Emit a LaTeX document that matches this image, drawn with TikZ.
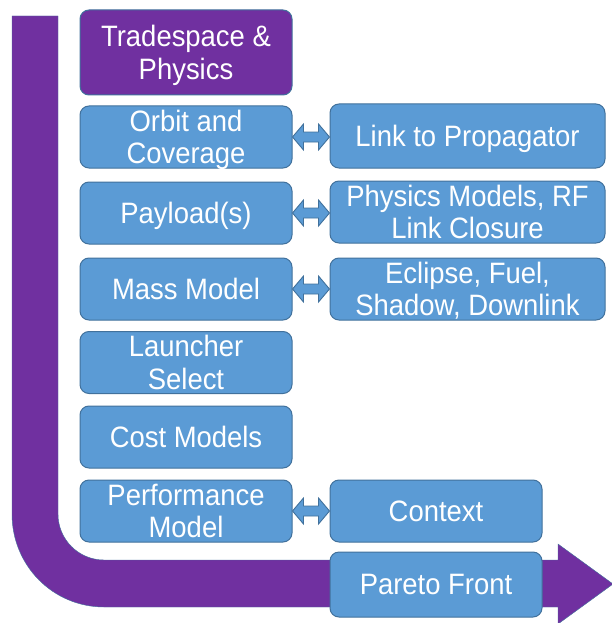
\documentclass[tikz,border=0pt]{standalone}
\usepackage{fontspec}
\setmainfont[FakeStretch=0.93]{Liberation Sans}
\usetikzlibrary{calc}
\definecolor{boxblue}{HTML}{5B9BD5}
\definecolor{edgeblue}{HTML}{41719C}
\definecolor{tpurple}{HTML}{7030A0}
\tikzset{
  box/.style={draw=edgeblue, line width=1pt, fill=boxblue, rounded corners=9pt,
    text=white, align=center, font=\fontsize{29.5}{32.5}\selectfont, inner sep=0pt,
    text depth=0pt},
  leftbox/.style={box, minimum width=212pt, minimum height=62pt},
  rightbox/.style={box, minimum width=275pt, minimum height=62pt},
  dbl/.style={draw=edgeblue, line width=0.9pt, fill=boxblue, line join=miter},
  bigarrow/.style={fill=tpurple, draw=edgeblue, line width=0.4pt}
}
\newcommand\linkarrow[2]{%
  \draw[dbl] (#1.east) -- ++(11pt,13pt) -- ++(0,-8pt)
    -- ($(#1.east -| #2.west)+(-11pt,5pt)$) -- ++(0,8pt)
    -- (#1.east -| #2.west) -- ++(-11pt,-13pt) -- ++(0,8pt)
    -- ($(#1.east)+(11pt,-5pt)$) -- ++(0,-8pt) -- cycle;}
\begin{document}
\begin{tikzpicture}[x=1pt,y=-1pt]
\useasboundingbox (0,0) rectangle (612,623);
% big process arrow
\path[bigarrow] (12,16) -- (58,16) -- (58,514)
  .. controls (58,539.4) and (78.6,560) .. (104,560)
  -- (558,560) -- (558,544) -- (613,584) -- (558,624) -- (558,607)
  -- (104,607) .. controls (53.2,607) and (12,565.8) .. (12,514) -- cycle;
% left column
\node[box, fill=tpurple, minimum width=212pt, minimum height=85pt] (trade) at (186,52.5) {Tradespace \&\\Physics};
\node[leftbox] (orbit) at (186,137) {Orbit and\\Coverage};
\node[leftbox] (payload) at (186,213) {Payload(s)};
\node[leftbox] (mass) at (186,289) {Mass Model};
\node[leftbox] (launch) at (186,362.5) {Launcher\\Select};
\node[leftbox] (cost) at (186,437) {Cost Models};
\node[leftbox] (perf) at (186,511) {Performance\\Model};
% right column
\node[rightbox, minimum height=64pt] (link) at (467.5,136) {Link to Propagator};
\node[rightbox] (phys) at (467.5,212) {Physics Models, RF\\Link Closure};
\node[rightbox] (eclipse) at (467.5,289) {Eclipse, Fuel,\\Shadow, Downlink};
\node[leftbox] (context) at (436,511) {Context};
\node[leftbox, minimum height=65pt] (pareto) at (436,584.5) {Pareto Front};
% two-way links
\linkarrow{orbit}{link}
\linkarrow{payload}{phys}
\linkarrow{mass}{eclipse}
\linkarrow{perf}{context}
\end{tikzpicture}
\end{document}
